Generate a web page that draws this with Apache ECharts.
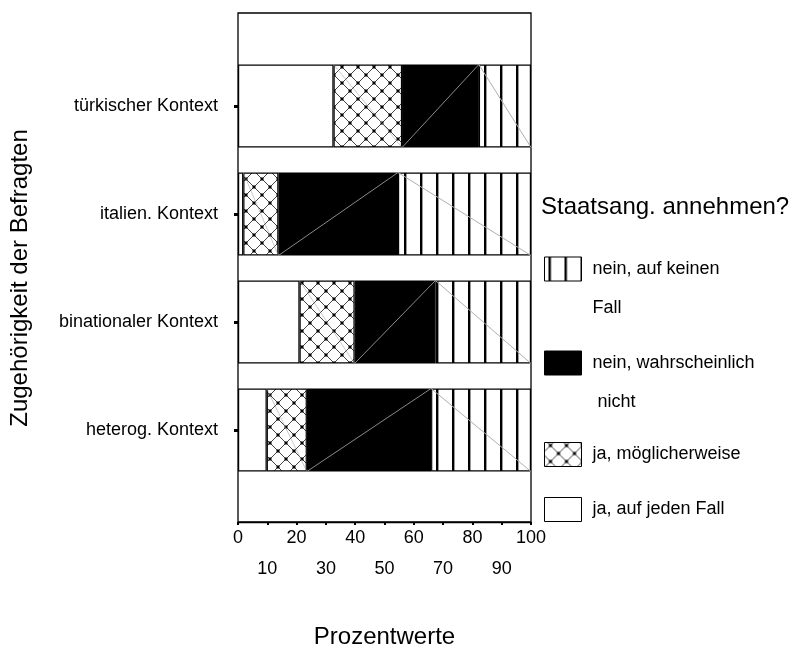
<!DOCTYPE html>
<html>
<head>
<meta charset="utf-8">
<script src="https://cdn.jsdelivr.net/npm/echarts@6/dist/echarts.min.js"></script>
<style>
html,body{margin:0;padding:0;background:#fff;}
#chart{width:792px;height:646px;}
</style>
</head>
<body>
<div id="chart"></div>
<script>
// ---- data ----
var categories = ['türkischer Kontext', 'italien. Kontext', 'binationaler Kontext', 'heterog. Kontext'];
var seriesNames = ['ja, auf jeden Fall', 'ja, möglicherweise', 'nein, wahrscheinlich nicht', 'nein, auf keinen Fall'];
var jaJedenFall = [32.6, 1.8, 21.0, 9.8];
var jaMoeglicherweise = [23.4, 12.0, 18.8, 13.7];
var neinWahrscheinlich = [26.2, 40.8, 27.6, 42.4];
var neinKeinenFall = [17.8, 45.4, 32.6, 34.1];
var xTicks = [0, 10, 20, 30, 40, 50, 60, 70, 80, 90, 100];

var FONT = '"Liberation Sans", Arial, sans-serif';

// ---- patterns ----
function makeCross() {
  var c = document.createElement('canvas'); c.width = 16; c.height = 16;
  var g = c.getContext('2d');
  g.fillStyle = '#fff'; g.fillRect(0, 0, 16, 16);
  g.strokeStyle = '#444'; g.lineWidth = 1;
  g.beginPath();
  g.moveTo(-2, -2); g.lineTo(18, 18);
  g.moveTo(18, -2); g.lineTo(-2, 18);
  g.stroke();
  g.fillStyle = '#000';
  g.fillRect(6.5, 6.5, 3, 3);
  g.fillRect(-1.5, -1.5, 3, 3); g.fillRect(14.5, -1.5, 3, 3);
  g.fillRect(-1.5, 14.5, 3, 3); g.fillRect(14.5, 14.5, 3, 3);
  return c;
}
function makeStripes() {
  var c = document.createElement('canvas'); c.width = 16; c.height = 4;
  var g = c.getContext('2d');
  g.fillStyle = '#fff'; g.fillRect(0, 0, 16, 4);
  g.fillStyle = '#000'; g.fillRect(4, 0, 2, 4);
  g.fillStyle = '#999'; g.fillRect(6, 0, 1, 4);
  return c;
}
var crossPattern = { image: makeCross(), repeat: 'repeat', x: 6, y: 3 };
var stripePattern = { image: makeStripes(), repeat: 'repeat' };
var fills = ['#ffffff', crossPattern, '#000000', stripePattern];
var valueSets = [jaJedenFall, jaMoeglicherweise, neinWahrscheinlich, neinKeinenFall];

// diagonal artefact lines (derived from cumulative data)
var diagData = [];
categories.forEach(function (c, i) {
  var s0 = jaJedenFall[i];
  var s1 = s0 + jaMoeglicherweise[i];
  var s2 = s1 + neinWahrscheinlich[i];
  var s3 = s2 + neinKeinenFall[i];
  diagData.push([i, s0, s1, 0]);  // cross: top-left -> bottom-right, faint
  diagData.push([i, s1, s2, 1]);  // black: bottom-left -> top-right
  diagData.push([i, s2, s3, 2]);  // stripes: top-left -> bottom-right
});

var BAR_H = 83;
var series = seriesNames.map(function (name, k) {
  return {
    name: name,
    type: 'bar',
    stack: 'total',
    xAxisIndex: 1,
    yAxisIndex: 1,
    barWidth: BAR_H,
    data: valueSets[k],
    itemStyle: { color: fills[k], borderColor: '#000', borderWidth: 1.2 },
    emphasis: { disabled: true },
    silent: true
  };
});
series.push({
  type: 'custom',
  xAxisIndex: 1,
  yAxisIndex: 1,
  silent: true,
  z: 5,
  data: diagData,
  renderItem: function (params, api) {
    var cat = api.value(0), s = api.value(1), e = api.value(2), kind = api.value(3);
    var a = api.coord([s, cat]), b = api.coord([e, cat]);
    var h = BAR_H / 2;
    var shape, col;
    if (kind === 1) { shape = { x1: a[0], y1: a[1] + h, x2: b[0], y2: b[1] - h }; col = '#8a8a8a'; }
    else if (kind === 2) { shape = { x1: a[0], y1: a[1] - h, x2: b[0], y2: b[1] + h }; col = '#b0b0b0'; }
    else { shape = { x1: a[0], y1: a[1] - h, x2: b[0], y2: b[1] + h }; col = 'rgba(150,150,150,0.5)'; }
    return { type: 'line', shape: shape, style: { stroke: col, lineWidth: 1 } };
  }
});

function legendFor(idx, top, formatter, multi) {
  return {
    data: [seriesNames[idx]],
    left: 544,
    top: top,
    orient: 'vertical',
    padding: 0,
    icon: 'rect',
    itemWidth: 37,
    itemHeight: 24,
    selectedMode: false,
    formatter: formatter,
    itemStyle: { borderColor: '#000', borderWidth: 1 },
    textStyle: {
      fontFamily: FONT, fontSize: 18, color: '#000',
      lineHeight: multi ? 39 : 22,
      padding: [0, 0, 0, 6]
    }
  };
}

var option = {
  backgroundColor: '#fff',
  animation: false,
  textStyle: { fontFamily: FONT },
  title: {
    text: 'Staatsang. annehmen?',
    left: 541,
    top: 195,
    padding: 0,
    textStyle: { fontFamily: FONT, fontSize: 24, fontWeight: 'normal', color: '#000' }
  },
  legend: [
    legendFor(3, 210.5, function () { return '\nnein, auf keinen\nFall'; }, true),
    legendFor(2, 304.5, function () { return '\nnein, wahrscheinlich\n nicht'; }, true),
    legendFor(1, 442, null, false),
    legendFor(0, 497, null, false)
  ],
  grid: [
    { left: 238, right: 261, top: 13, bottom: 124, outerBoundsMode: 'none', containLabel: false,
      show: true, borderColor: '#000', borderWidth: 1.3, backgroundColor: 'transparent' },
    { left: 238, right: 261, top: 52, bottom: 162, outerBoundsMode: 'none', containLabel: false }
  ],
  xAxis: [
    {
      gridIndex: 0, type: 'value', min: 0, max: 100, interval: 10,
      name: 'Prozentwerte', nameLocation: 'middle', nameGap: 103,
      nameTextStyle: { fontFamily: FONT, fontSize: 24, color: '#000' },
      axisLine: { show: true, lineStyle: { color: '#000', width: 1.3 } },
      axisTick: { show: true, length: 3, lineStyle: { color: '#000', width: 2 } },
      splitLine: { show: false },
      axisLabel: {
        margin: 1,
        fontFamily: FONT, fontSize: 18, color: '#000', lineHeight: 31,
        formatter: function (v) {
          return (xTicks.indexOf(v) % 2 === 0) ? String(v) : '\n' + v;
        }
      }
    },
    { gridIndex: 1, type: 'value', min: 0, max: 100, show: false }
  ],
  yAxis: [
    { gridIndex: 0, type: 'value', show: false },
    {
      gridIndex: 1, type: 'category', inverse: true, data: categories,
      name: 'Zugehörigkeit der Befragten', nameLocation: 'middle', nameRotate: 90, nameGap: 206,
      nameTextStyle: { fontFamily: FONT, fontSize: 24, color: '#000', padding: [0, 20, 0, 0] },
      axisLine: { show: false },
      axisTick: { show: true, alignWithLabel: true, length: 4, lineStyle: { color: '#000', width: 3 } },
      axisLabel: { margin: 20, fontFamily: FONT, fontSize: 18, color: '#000' },
      splitLine: { show: false }
    }
  ],
  series: series
};

var chart = echarts.init(document.getElementById('chart'), null, { renderer: 'canvas' });
chart.setOption(option);
</script>
</body>
</html>
